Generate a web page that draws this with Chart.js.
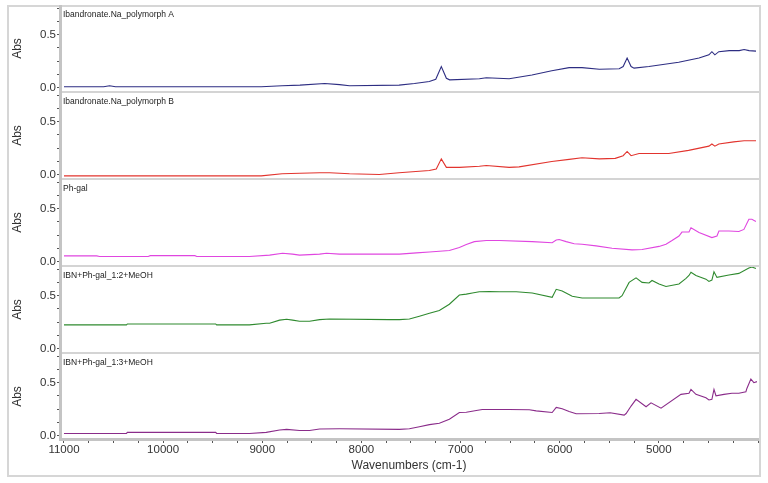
<!DOCTYPE html>
<html><head><meta charset="utf-8">
<script src="https://cdn.jsdelivr.net/npm/chart.js@4.4.1/dist/chart.umd.min.js"></script>
<style>
html,body{margin:0;padding:0;background:#fff;}
#wrap{position:relative;width:768px;height:483px;overflow:hidden;background:#fff;}
#frame{position:absolute;left:7px;top:5px;width:754px;height:472px;border:2px solid #d6d6d6;box-sizing:border-box;}
.sep{position:absolute;left:60px;width:699px;height:2px;background:#d4d4d4;}
canvas{position:absolute;left:8px;}
</style></head>
<body><div id="wrap"><div id="frame"></div></div>
<script>
// ---- data ----
const panelNames = ['Ibandronate.Na_polymorph A','Ibandronate.Na_polymorph B','Ph-gal','IBN+Ph-gal_1:2+MeOH','IBN+Ph-gal_1:3+MeOH'];
const xTickValues = [11000,10000,9000,8000,7000,6000,5000];
const xTickLabels = ['11000','10000','9000','8000','7000','6000','5000'];
const yTickValues = [0, 0.5];
const yTickLabels = ['0.0','0.5'];

const wnA = [11000,10600,10540,10480,9500,9010,8800,8620,8370,8220,8120,7620,7465,7315,7250,7194,7143,7110,6810,6740,6510,6280,6080,5905,5775,5600,5400,5360,5320,5280,5250,5100,4800,4595,4495,4465,4435,4395,4290,4190,4140,4090,4020];
const absA = [0.01,0.01,0.02,0.01,0.01,0.01,0.02,0.025,0.04,0.03,0.02,0.025,0.04,0.06,0.08,0.2,0.09,0.075,0.085,0.095,0.085,0.12,0.16,0.19,0.19,0.175,0.18,0.2,0.28,0.2,0.185,0.2,0.24,0.28,0.31,0.34,0.31,0.34,0.35,0.35,0.36,0.35,0.345];

const wnB = [11000,9010,8800,8620,8420,8320,8120,7820,7620,7315,7245,7194,7143,7010,6810,6740,6510,6410,6080,5905,5775,5600,5440,5360,5320,5280,5200,4900,4700,4495,4465,4435,4395,4245,4140,4020];
const absB = [-0.01,-0.01,0.01,0.015,0.02,0.02,0.01,0.003,0.02,0.04,0.055,0.15,0.07,0.07,0.08,0.088,0.07,0.075,0.125,0.145,0.16,0.15,0.155,0.18,0.22,0.18,0.2,0.2,0.23,0.27,0.29,0.27,0.29,0.31,0.32,0.32];

const wnC = [11000,10670,10640,10150,10130,9680,9660,9130,8926,8795,8695,8624,8422,8352,8221,7616,7445,7314,7113,7012,6942,6861,6740,6609,6277,6076,6035,6005,5935,5854,5774,5633,5472,5270,5169,4998,4928,4867,4797,4767,4696,4676,4595,4465,4414,4394,4293,4193,4142,4092,4062,4021];
const absC = [0.056,0.056,0.05,0.05,0.058,0.058,0.05,0.05,0.063,0.081,0.072,0.063,0.072,0.081,0.072,0.072,0.084,0.093,0.107,0.135,0.163,0.19,0.2,0.2,0.19,0.18,0.205,0.21,0.19,0.17,0.165,0.15,0.128,0.112,0.116,0.145,0.165,0.2,0.243,0.28,0.28,0.32,0.275,0.228,0.243,0.29,0.29,0.285,0.305,0.4,0.4,0.38];

const wnD = [11000,10370,10360,9470,9460,9130,8960,8926,8825,8754,8694,8624,8523,8422,8321,7717,7616,7516,7415,7314,7214,7113,7012,6942,6881,6811,6710,6609,6438,6277,6076,6035,5975,5874,5774,5401,5371,5300,5230,5169,5099,5069,4998,4928,4797,4726,4696,4676,4626,4525,4495,4465,4444,4414,4293,4193,4092,4062,4021];
const absD = [0.225,0.225,0.234,0.234,0.225,0.225,0.24,0.24,0.27,0.278,0.27,0.26,0.26,0.275,0.28,0.275,0.275,0.28,0.306,0.334,0.36,0.42,0.506,0.515,0.525,0.537,0.54,0.537,0.537,0.525,0.485,0.56,0.544,0.494,0.478,0.478,0.5,0.625,0.668,0.625,0.62,0.643,0.61,0.587,0.61,0.663,0.69,0.72,0.69,0.656,0.634,0.647,0.725,0.672,0.694,0.71,0.76,0.77,0.756];

const wnE = [11000,10370,10360,9470,9460,9130,8960,8825,8754,8624,8523,8422,8221,7616,7516,7415,7314,7214,7113,7012,6942,6841,6781,6509,6307,6237,6076,6035,5975,5905,5834,5602,5491,5350,5330,5280,5230,5129,5079,4978,4777,4696,4676,4626,4525,4495,4465,4444,4424,4343,4263,4193,4122,4112,4072,4042,4011];
const absE = [0.022,0.022,0.032,0.032,0.022,0.022,0.032,0.054,0.061,0.05,0.05,0.064,0.066,0.061,0.067,0.086,0.105,0.118,0.156,0.22,0.222,0.238,0.248,0.248,0.245,0.235,0.219,0.267,0.255,0.229,0.207,0.21,0.217,0.195,0.21,0.28,0.343,0.274,0.31,0.26,0.39,0.4,0.437,0.39,0.358,0.337,0.343,0.437,0.377,0.39,0.4,0.4,0.415,0.446,0.535,0.5,0.51];

// ---- styling / layout ----
const lineColors = ['#2d2d82','#e2342e','#e046e0','#2f8a2f','#8a2c8a'];
const FONT = '"Liberation Sans", Arial, sans-serif';
const wn = [wnA,wnB,wnC,wnD,wnE];
const ab = [absA,absB,absC,absD,absE];

const panelLabel = {
  id:'panelLabel',
  afterDatasetsDraw(chart){
    const ctx = chart.ctx, a = chart.chartArea;
    ctx.save();
    ctx.font = '8.5px ' + FONT;
    ctx.fillStyle = '#222';
    ctx.textBaseline = 'middle';
    ctx.textAlign = 'left';
    ctx.fillText(chart.data.datasets[0].label, a.left + 3, a.top + 9);
    ctx.restore();
  }
};

const wrap = document.getElementById('wrap');
const PLOT_TOP = 6, PITCH = 87, PLOT_H = 85;

for (let i = 0; i < 4; i++) {
  const s = document.createElement('div');
  s.className = 'sep';
  s.style.top = (PLOT_TOP + PITCH*i + PLOT_H) + 'px';
  wrap.appendChild(s);
}

function makePanel(i){
  const last = i === 4;
  const h = last ? 130 : PLOT_H + 16;
  const c = document.createElement('canvas');
  c.width = 752; c.height = h;
  c.style.width = '752px'; c.style.height = h + 'px';
  c.style.top = (PLOT_TOP + PITCH*i - 8) + 'px';
  wrap.appendChild(c);
  new Chart(c, {
    type:'line',
    data:{datasets:[{
      label: panelNames[i],
      data: wn[i].map((x,k)=>({x:x, y:ab[i][k]})),
      borderColor: lineColors[i],
      borderWidth: 1.1,
      pointRadius: 0,
      tension: 0,
      fill: false
    }]},
    options:{
      responsive:false, animation:false, devicePixelRatio:1,
      layout:{padding:{top:8, bottom: last ? 0 : 8, left:0, right:2}},
      plugins:{legend:{display:false}, tooltip:{enabled:false}},
      scales:{
        x:{
          type:'linear', reverse:true, min:4000, max:11040,
          display: last,
          afterBuildTicks: s => { const t=[]; for(let v=11000; v>=4000; v-=250) t.push({value:v}); s.ticks = t; },
          afterFit: s => { if (last) s.height = 37; },
          ticks:{
            autoSkip:false, maxRotation:0, padding:0,
            color:'#333', font:{family:FONT, size:11.5},
            callback: v => { const k = xTickValues.indexOf(v); return k >= 0 ? xTickLabels[k] : ''; }
          },
          grid:{drawOnChartArea:false, drawTicks:true, tickLength:4, color:'#555', tickColor:'#555'},
          border:{color:'#c4c4c4', width:3},
          title:{display:true, text:'Wavenumbers (cm-1)', color:'#333', font:{family:FONT, size:12}, padding:{top:0, bottom:3}}
        },
        y:{
          type:'linear', min:-0.03, max:0.77,
          afterBuildTicks: s => { const t=[]; for(let k=0;k<=6;k++) t.push({value:k*0.125}); s.ticks = t; },
          afterFit: s => { s.width = 52; },
          ticks:{
            autoSkip:false, padding:1,
            color:'#333', font:{family:FONT, size:11.5},
            callback: v => { const k = yTickValues.findIndex(t => Math.abs(t - v) < 1e-9); return k >= 0 ? yTickLabels[k] : ''; }
          },
          grid:{drawOnChartArea:false, drawTicks:true, tickLength:3, color:'#555', tickColor:'#555'},
          border:{color:'#c4c4c4', width:3},
          title:{display:true, text:'Abs', color:'#333', font:{family:FONT, size:12}, padding:{top:2, bottom:0}}
        }
      }
    },
    plugins:[panelLabel]
  });
}
for (let i = 0; i < 5; i++) makePanel(i);
</script>
</body></html>
